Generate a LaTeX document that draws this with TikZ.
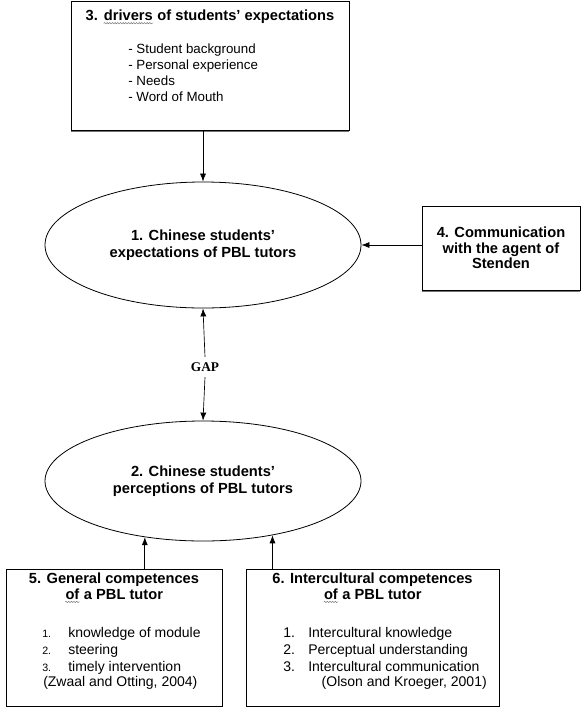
\documentclass[tikz,border=0pt]{standalone}
\usepackage{fontspec}
\setmainfont{Liberation Sans}
\newfontfamily\gapfont{Liberation Serif}
\usetikzlibrary{arrows.meta,shapes.geometric,decorations.pathmorphing}

\tikzset{
  box/.style={draw, line width=0.6pt, inner sep=0pt},
  oval/.style={draw, ellipse, line width=0.6pt, inner sep=0pt, align=center,
    font=\fontsize{11}{12.75}\selectfont\bfseries},
  arr/.style={-{Latex[length=6pt,width=4.5pt]}, line width=0.5pt},
  ttl/.style={font=\fontsize{11}{11.6}\selectfont\bfseries, align=center, inner sep=0pt},
  lst/.style={align=left, inner sep=0pt, font=\fontsize{10.5}{12.75}\selectfont},
  shade line/.style={black!55, line width=0.9pt},
  squiggle/.style={gray, line width=0.4pt, decorate,
    decoration={snake, segment length=2pt, amplitude=0.5pt}}
}
\newcommand\squig[1]{\tikz[baseline=(w.base)]{\node[inner sep=0pt] (w) {#1};
  \draw[squiggle] ([yshift=-2pt]w.base west) -- ([yshift=-2pt]w.base east);}}

\begin{document}
\begin{tikzpicture}[x=0.75pt, y=-0.75pt]
  \useasboundingbox (0,0) rectangle (581,708);

  % 3: drivers
  \node (drivers) [box, minimum width=208.5pt, minimum height=96.75pt] at (210,65.5) {};
  \draw [shade line] ([yshift=-0.9pt]drivers.south west) -- ([yshift=-0.9pt]drivers.south east);
  \node (drvttl) [ttl] at (210,17) {3. \squig{drivers} of students’ expectations};
  \node (drvlst) [lst, anchor=north west, font=\fontsize{10}{12}\selectfont] at (128,44)
    {- Student background\\ - Personal experience\\ - Needs\\ - Word of Mouth};

  % 1 and 2: the two ellipses
  \node (expect) [oval, minimum width=237pt, minimum height=94.5pt] at (203,245)
    {1. Chinese students’\\ expectations of PBL tutors};
  \node (percep) [oval, minimum width=237pt, minimum height=90pt] at (203,481)
    {2. Chinese students’\\ perceptions of PBL tutors};

  % 4: agent
  \node (agent) [box, ttl, minimum width=118.5pt, minimum height=63pt] at (501,248)
    {4. Communication\\ with the agent of\\ Stenden};
  \draw [shade line] ([yshift=-0.9pt]agent.south west) -- ([yshift=-0.9pt]agent.south east);

  \node (gap) [inner sep=4pt, font=\gapfont\bfseries] at (205,367) {GAP};

  % 5: general competences
  \node (general) [box, minimum width=162pt, minimum height=102.75pt] at (114,637.5) {};
  \node (genttl) [ttl] at (114,588) {5. General competences\\ \squig{of} a PBL tutor};
  \node (genlst) [lst, anchor=north west] at (42,625) {%
    \begin{tabular}{@{}p{19.5pt}@{}l@{}}
      {\footnotesize 1.} & knowledge of module\\
      {\footnotesize 2.} & steering\\
      {\footnotesize 3.} & timely intervention
    \end{tabular}};
  \node (genref) [lst, anchor=west] at (43,683) {(Zwaal and Otting, 2004)};

  % 6: intercultural competences
  \node (cultural) [box, minimum width=189.75pt, minimum height=102.75pt] at (372.5,637.5) {};
  \node (culttl) [ttl] at (372.5,588) {6. Intercultural competences\\ \squig{of} a PBL tutor};
  \node (cullst) [lst, anchor=north west] at (283,625) {%
    \begin{tabular}{@{}p{18.75pt}@{}l@{}}
      1. & Intercultural knowledge\\
      2. & Perceptual understanding\\
      3. & Intercultural communication
    \end{tabular}};
  \node (culref) [lst, anchor=east] at (487,683) {(Olson and Kroeger, 2001)};

  % arrows
  \draw [arr] (expect.north |- drivers.south) -- (expect.north);
  \draw [arr] (agent.west |- expect.east) -- (expect.east);
  \draw [arr] (gap.north) -- (expect.south);
  \draw [arr] (gap.south) -- (percep.north);
  \draw [arr] (general.north -| percep.224) -- (percep.224);
  \draw [arr] (cultural.north -| percep.322) -- (percep.322);
\end{tikzpicture}
\end{document}
